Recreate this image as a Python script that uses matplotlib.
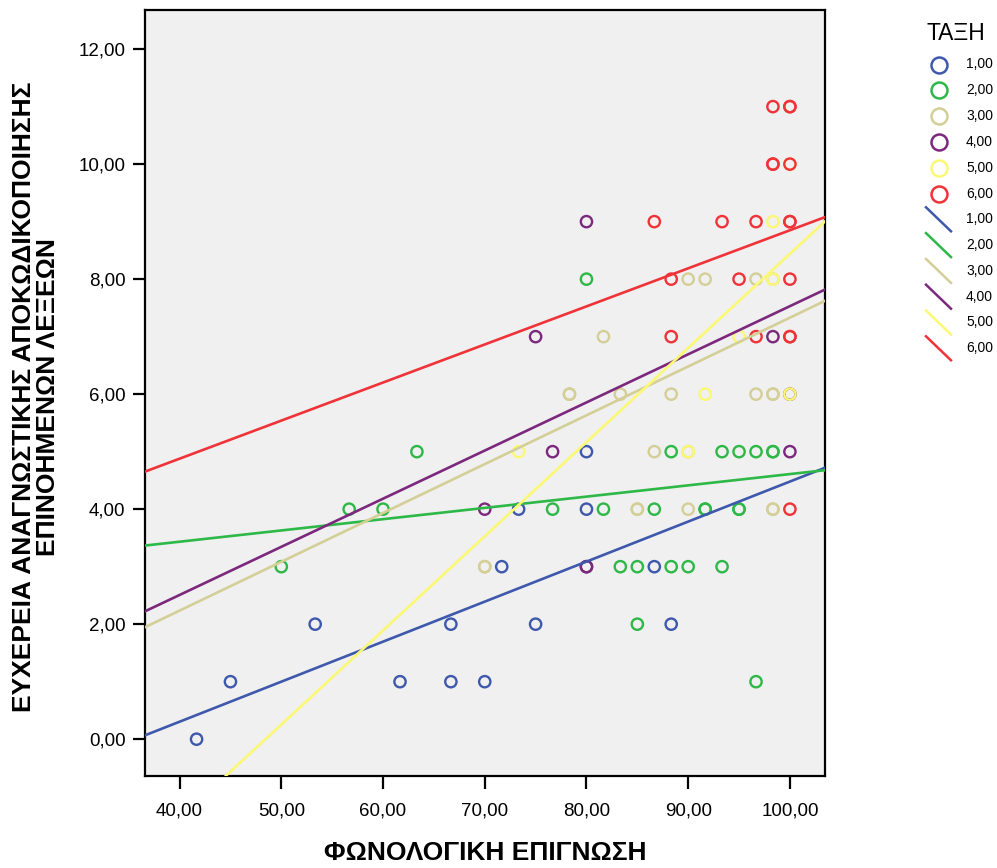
import matplotlib
matplotlib.use("Agg")
import matplotlib.pyplot as plt
from matplotlib.lines import Line2D
import numpy as np

plt.rcParams['font.family'] = ['Liberation Sans', 'DejaVu Sans']

# ---------------- data ----------------
groups = ["1,00", "2,00", "3,00", "4,00", "5,00", "6,00"]
colors = ["#3E58AC", "#2EB848", "#D4CE97", "#7B287D", "#FBF873", "#EF3338"]

g1_x = [41.67, 45.0, 53.33, 61.67, 66.67, 66.67, 70.0, 71.67, 73.33, 75.0, 80.0, 80.0, 86.67, 88.33]
g1_y = [0, 1, 2, 1, 1, 2, 1, 3, 4, 2, 4, 5, 3, 2]

g2_x = [50.0, 56.67, 60.0, 63.33, 76.67, 80.0, 81.67, 83.33, 85.0, 85.0, 86.67, 88.33, 88.33,
        90.0, 91.67, 91.67, 93.33, 93.33, 95.0, 95.0, 95.0, 96.67, 96.67, 98.33, 98.33]
g2_y = [3, 4, 4, 5, 4, 8, 4, 3, 3, 2, 4, 3, 5,
        3, 4, 4, 3, 5, 5, 4, 4, 5, 1, 5, 5]

g3_x = [70.0, 70.0, 78.33, 78.33, 81.67, 83.33, 85.0, 85.0, 86.67, 88.33, 90.0, 90.0, 90.0,
        91.67, 96.67, 96.67, 98.33, 98.33, 98.33, 98.33, 98.33, 100.0]
g3_y = [3, 3, 6, 6, 7, 6, 4, 4, 5, 6, 8, 5, 4,
        8, 8, 6, 8, 6, 6, 4, 4, 6]

g4_x = [70.0, 75.0, 76.67, 80.0, 80.0, 80.0, 98.33, 100.0, 100.0]
g4_y = [4, 7, 5, 9, 3, 3, 7, 5, 6]

g5_x = [73.33, 90.0, 91.67, 95.0, 98.33, 98.33, 100.0, 100.0]
g5_y = [5, 5, 6, 7, 9, 8, 6, 10]

g6_x = [86.67, 88.33, 88.33, 93.33, 95.0, 96.67, 96.67, 98.33, 98.33, 98.33,
        100.0, 100.0, 100.0, 100.0, 100.0, 100.0, 100.0, 100.0, 100.0]
g6_y = [9, 8, 7, 9, 8, 9, 7, 11, 10, 10,
        11, 11, 10, 9, 9, 8, 7, 7, 4]

# fit lines per group (intercept, slope)
fit_intercepts = [-2.48, 2.65, -1.16, -0.84, -7.93, 2.23]
fit_slopes = [0.0696, 0.0196, 0.0849, 0.0837, 0.1637, 0.0662]

x_ticks = [40, 50, 60, 70, 80, 90, 100]
y_ticks = [0, 2, 4, 6, 8, 10, 12]
x_title = "ΦΩΝΟΛΟΓΙΚΗ ΕΠΙΓΝΩΣΗ"
y_title = "ΕΥΧΕΡΕΙΑ ΑΝΑΓΝΩΣΤΙΚΗΣ ΑΠΟΚΩΔΙΚΟΠΟΙΗΣΗΣ\nΕΠΙΝΟΗΜΕΝΩΝ ΛΕΞΕΩΝ"
legend_title = "ΤΑΞΗ"

xs = [g1_x, g2_x, g3_x, g4_x, g5_x, g6_x]
ys = [g1_y, g2_y, g3_y, g4_y, g5_y, g6_y]

# ---------------- figure ----------------
W, H = 997, 868
fig = plt.figure(figsize=(W / 100, H / 100), dpi=100)
fig.patch.set_facecolor("white")

L, R, T, B = 145, 825, 10, 776
ax = fig.add_axes([L / W, 1 - B / H, (R - L) / W, (B - T) / H])
ax.set_facecolor("#F0F0F0")
ax.set_xlim(36.6, 103.45)
ax.set_ylim(-0.64, 12.68)

for gx, gy, c in zip(xs, ys, colors):
    ax.scatter(gx, gy, s=66, facecolors="none", edgecolors=c, linewidths=1.7, zorder=3)

xline = np.array(ax.get_xlim())
for b0, b1, c in zip(fit_intercepts, fit_slopes, colors):
    ax.plot(xline, b0 + b1 * xline, color=c, lw=1.9, zorder=4, clip_on=True)

ax.set_xticks(x_ticks)
ax.set_xticklabels([f"{v:.2f}".replace(".", ",") for v in x_ticks])
ax.set_yticks(y_ticks)
ax.set_yticklabels([f"{v:.2f}".replace(".", ",") for v in y_ticks])
ax.tick_params(axis="both", direction="out", length=9, width=1.6, labelsize=13.5, color="black")
ax.tick_params(axis="x", pad=10)
ax.tick_params(axis="y", pad=5)
for s in ax.spines.values():
    s.set_linewidth(1.6)
    s.set_color("black")

fig.text(485 / W, 1 - 853 / H, x_title, ha="center", va="center",
         fontsize=19, fontweight="bold")
fig.text(36 / W, 1 - 397 / H, y_title, ha="center", va="center", rotation=90,
         fontsize=19, fontweight="bold", linespacing=0.95, multialignment="center")

# ---------------- legend (manual) ----------------
def fx(px):
    return px / W

def fy(py):
    return 1 - py / H

fig.text(fx(926), fy(34), legend_title, ha="left", va="center", fontsize=16.5)
row0, step = 64.5, 25.8
for i, (lab, c) in enumerate(zip(groups, colors)):
    yy = row0 + i * step
    fig.add_artist(Line2D([fx(939)], [fy(yy)], marker="o", markersize=11.5,
                          markerfacecolor="none", markeredgecolor=c, markeredgewidth=1.8,
                          linestyle="none", transform=fig.transFigure))
    fig.text(fx(966), fy(yy), lab, ha="left", va="center", fontsize=10)
for j, (lab, c) in enumerate(zip(groups, colors)):
    yy = row0 + (6 + j) * step
    fig.add_artist(Line2D([fx(926), fx(951)], [fy(yy - 12), fy(yy + 12)], color=c, lw=1.8,
                          transform=fig.transFigure))
    fig.text(fx(966), fy(yy), lab, ha="left", va="center", fontsize=10)

fig.savefig("out.png", dpi=100, facecolor="white")
